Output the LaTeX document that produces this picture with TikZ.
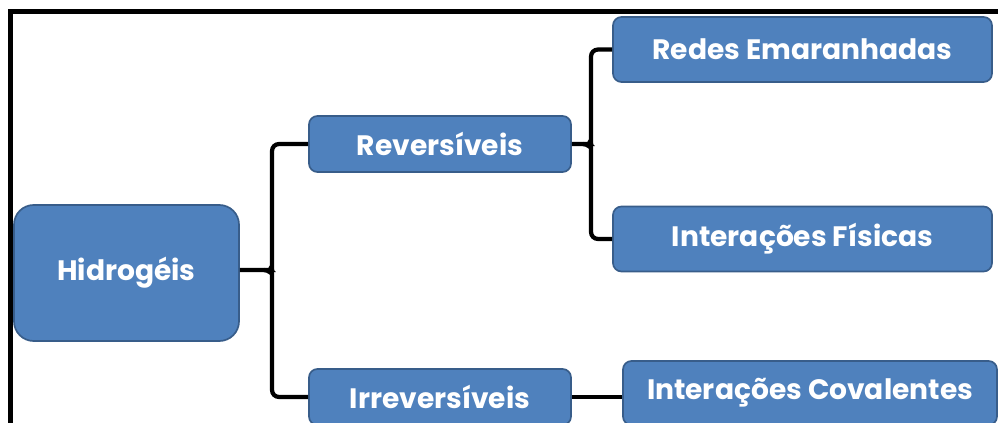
\documentclass[tikz,border=0pt]{standalone}
\usepackage{fontspec}
\setmainfont{Poppins}
\usetikzlibrary{positioning, calc}
\definecolor{meuazul}{RGB}{79, 129, 189}
\definecolor{bordaazul}{RGB}{56, 93, 138}

\begin{document}
\begin{tikzpicture}[
                box/.style={draw=bordaazul, line width=1.2pt, rounded corners=6pt, fill=meuazul, text=white, align=center, font=\bfseries\fontsize{20}{24}\selectfont},
                link/.style={line width=3pt, color=black, rounded corners=5pt}
            ]
                \useasboundingbox (0,0) rectangle (24.95,-10.575);
                % moldura
                \draw[line width=3.6pt] (0.2625,-11) -- (0.2625,-0.2875) -- (25.5,-0.2875);

                \node[box, minimum width=5.625cm, minimum height=3.4cm, rounded corners=14pt] (hid) at (3.1625,-6.825) {Hidrogéis};
                \node[box, minimum width=6.55cm, minimum height=1.4cm] (rev) at (11.0,-3.6) {Reversíveis};
                \node[box, minimum width=6.55cm, minimum height=1.4cm] (irr) at (11.0,-9.925) {Irreversíveis};
                \node[box, minimum width=9.475cm, minimum height=1.625cm] (redes) at (20.0625,-1.2375) {Redes Emaranhadas};
                \node[box, minimum width=9.475cm, minimum height=1.625cm] (fis) at (20.0625,-5.975) {Interações Físicas};
                \node[box, minimum width=9.35cm, minimum height=1.6cm] (cov) at (20.25,-9.825) {Interações Covalentes};

                % chaves
                \coordinate (b1) at (6.8,-6.75);
                \coordinate (b2) at (14.775,-3.6);
                \draw[link] (rev.west) -| ($(b1)+(0,0.25)$) to[out=-90, in=0] ($(b1)+(-0.2,0)$) -- (b1 -| hid.east);
                \draw[link] (irr.west) -| ($(b1)+(0,-0.25)$) to[out=90, in=0] ($(b1)+(-0.2,0)$);
                \draw[link] (redes.west) -| ($(b2)+(0,0.25)$) to[out=-90, in=0] ($(b2)+(-0.2,0)$) -- (rev.east);
                \draw[link] (fis.west) -| ($(b2)+(0,-0.25)$) to[out=90, in=0] ($(b2)+(-0.2,0)$);
                \draw[link] (irr.east) -- (irr.east -| cov.west);
            \end{tikzpicture}
\end{document}
